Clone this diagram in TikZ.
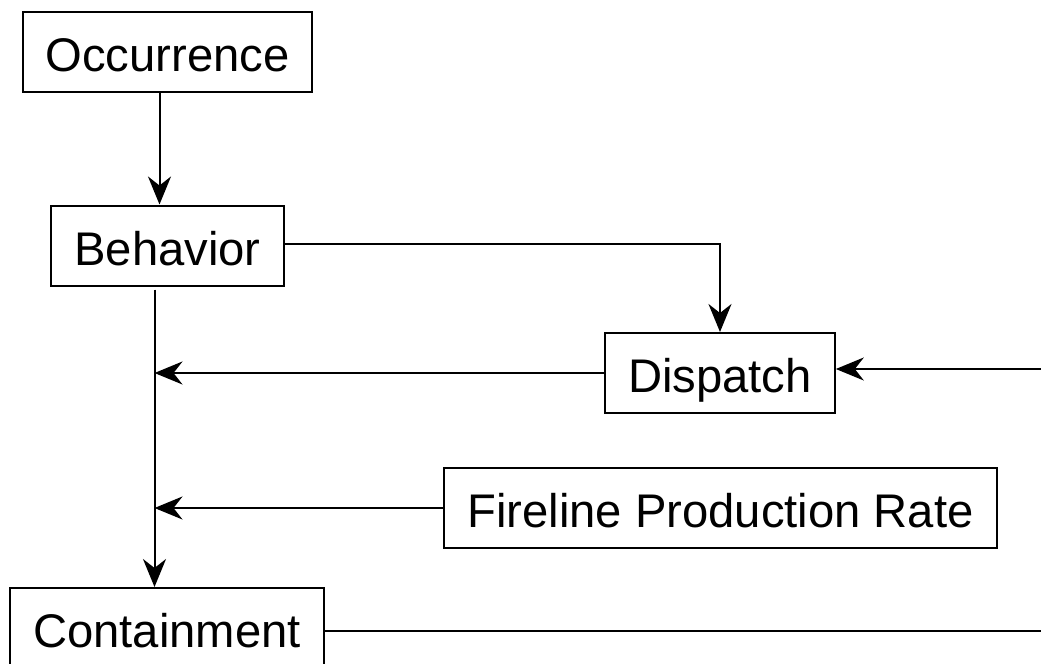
\documentclass[tikz,border=0pt]{standalone}
\usepackage{fontspec}
\setmainfont{Liberation Sans}
\usetikzlibrary{arrows.meta}

\begin{document}
\begin{tikzpicture}[x=0.5pt, y=-0.5pt, >={Stealth[length=14pt,width=11.5pt,inset=4.5pt]}, line width=1pt]
        \tikzset{%
         every block/.style={
            rectangle,
            draw,
            line width=1pt,
            font=\fontsize{23.6}{28}\selectfont,
            inner xsep=11.5pt,
            inner ysep=0pt,
            text height=19.5pt,
            text depth=0pt,
            minimum height=40pt},
        }

        \useasboundingbox (0,0) rectangle (1041,664);

        % boxes
        \node [every block] (occurrence) at (167.5,52) {Occurrence};
        \node [every block] (behavior) at (167.5,245.5) {Behavior};
        \node [every block] (dispatch) at (720,373) {Dispatch};
        \node [every block] (fireline) at (720.5,508) {Fireline Production Rate};
        \node [every block] (containment) at (167,628) {Containment};

        % trunk and loose ends
        \coordinate (trunk) at ([xshift=-6.5pt, yshift=-1.5pt]behavior.south);
        \coordinate (dispatch-in) at (1041,369);
        \coordinate (containment-out) at (1041,631);

        \draw [->] ([xshift=-4pt]occurrence.south) -- ([xshift=-4pt]behavior.north);
        \draw [->] ([yshift=1pt]behavior.east) -| (dispatch.north);
        \draw [->] (trunk) -- (trunk |- containment.north);

        \foreach \b in {dispatch, fireline}
            \draw [->] (\b.west) -- (trunk |- \b.west);

        \draw [->] (dispatch-in) -- (dispatch.east |- dispatch-in);
        \draw (containment.east |- containment-out) -- (containment-out);
    \end{tikzpicture}
\end{document}
